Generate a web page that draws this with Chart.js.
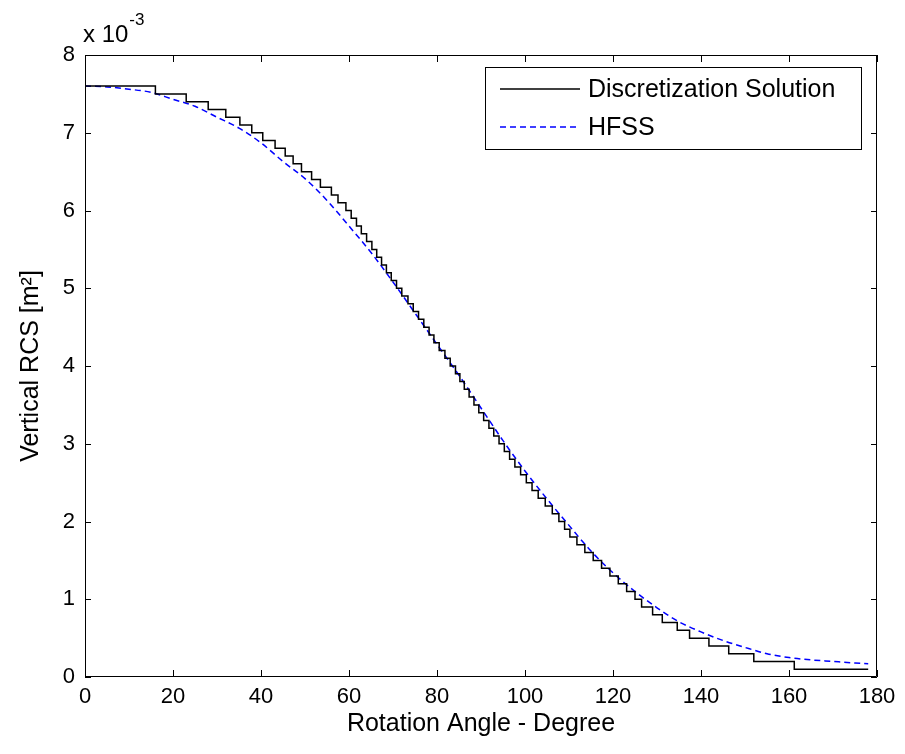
<!DOCTYPE html>
<html>
<head>
<meta charset="utf-8">
<script src="https://cdn.jsdelivr.net/npm/chart.js@4"></script>
<style>
  html, body { margin: 0; padding: 0; background: #ffffff; }
  #c { display: block; }
</style>
</head>
<body>
<canvas id="c" width="905" height="754"></canvas>
<script>
// Vertical RCS versus rotation angle; RCS values are in units of 1e-3 m^2.

// Discretization solution: angle (deg) at which each quantized level begins.
const discAngles = [
  0, 16, 23, 28, 32, 35.2, 37.9, 40.4, 43.2, 45.5,
  47.3, 49.2, 51.5, 53.5, 56, 57.5, 59.3, 60.5, 61.7, 62.8,
  64.0, 65.2, 66.3, 67.4, 68.5, 69.6, 70.8, 72.0, 73.4, 74.6,
  75.8, 77.0, 78.2, 79.3, 80.5, 81.8, 83.0, 84.2, 85.2, 86.2,
  87.3, 88.4, 89.5, 90.6, 91.8, 92.9, 94.1, 95.3, 96.5, 97.7,
  99.0, 100.3, 101.6, 103.0, 104.6, 106.2, 107.7, 109.0, 110.2, 111.8,
  113.6, 115.5, 117.4, 119.3, 121.2, 123.1, 125.0, 126.5, 129.0, 131.2,
  134.6, 137.4, 141.8, 146.3, 152.0, 161.2, 178
];
const discValues = [
  7.6, 7.5, 7.4, 7.3, 7.2, 7.1, 7.0, 6.9, 6.8, 6.7,
  6.6, 6.5, 6.4, 6.3, 6.2, 6.1, 6.0, 5.9, 5.8, 5.7,
  5.6, 5.5, 5.4, 5.3, 5.2, 5.1, 5.0, 4.9, 4.8, 4.7,
  4.6, 4.5, 4.4, 4.3, 4.2, 4.1, 4.0, 3.9, 3.8, 3.7,
  3.6, 3.5, 3.4, 3.3, 3.2, 3.1, 3.0, 2.9, 2.8, 2.7,
  2.6, 2.5, 2.4, 2.3, 2.2, 2.1, 2.0, 1.9, 1.8, 1.7,
  1.6, 1.5, 1.4, 1.3, 1.2, 1.1, 1.0, 0.9, 0.8, 0.7,
  0.6, 0.5, 0.4, 0.3, 0.2, 0.1, 0.1
];

// HFSS reference curve.
const hfssAngles = [
  0, 5, 10, 15, 20, 25, 30, 35, 40, 45,
  50, 55, 60, 65, 70, 75, 80, 85, 90, 95,
  100, 105, 110, 115, 120, 125, 130, 135, 140, 145,
  150, 155, 160, 165, 170, 175, 178
];
const hfssValues = [
  7.60, 7.59, 7.56, 7.52, 7.43, 7.34, 7.20, 7.06, 6.87, 6.63,
  6.41, 6.13, 5.80, 5.46, 5.08, 4.68, 4.28, 3.88, 3.46, 3.04,
  2.65, 2.29, 1.95, 1.62, 1.34, 1.10, 0.89, 0.71, 0.58, 0.47,
  0.38, 0.30, 0.25, 0.22, 0.20, 0.18, 0.17
];

const seriesNames = ['Discretization Solution', 'HFSS'];
const xTitle = 'Rotation Angle - Degree';
const yTitle = 'Vertical RCS [m\u00B2]';
const yMultiplier = ['x 10', '-3'];

const FONT = '"Liberation Sans", Arial, Helvetica, sans-serif';

// Box frame with inward tick marks on all four sides, the exponent label
// and a boxed legend in the upper right corner.
const framePlugin = {
  id: 'frame',
  afterDatasetsDraw(chart) {
    const { ctx, chartArea: a, scales } = chart;
    const xs = scales.x, ys = scales.y;
    ctx.save();
    ctx.strokeStyle = '#000';
    ctx.lineWidth = 1;
    ctx.beginPath();
    ctx.rect(a.left + 0.5, a.top + 0.5, a.right - a.left - 1, a.bottom - a.top - 1);
    ctx.stroke();

    ctx.beginPath();
    xs.ticks.forEach(t => {
      const px = Math.round(xs.getPixelForValue(t.value)) + 0.5;
      ctx.moveTo(px, a.bottom); ctx.lineTo(px, a.bottom - 7);
      ctx.moveTo(px, a.top); ctx.lineTo(px, a.top + 7);
    });
    ys.ticks.forEach(t => {
      const py = Math.round(ys.getPixelForValue(t.value)) + 0.5;
      ctx.moveTo(a.left, py); ctx.lineTo(a.left + 6, py);
      ctx.moveTo(a.right, py); ctx.lineTo(a.right - 6, py);
    });
    ctx.stroke();

    // exponent label above the y axis
    ctx.fillStyle = '#000';
    ctx.textBaseline = 'alphabetic';
    ctx.textAlign = 'left';
    ctx.font = '24px ' + FONT;
    ctx.fillText(yMultiplier[0], 83, 42);
    const w = ctx.measureText(yMultiplier[0]).width;
    ctx.font = '17px ' + FONT;
    ctx.fillText(yMultiplier[1], 83 + w + 1, 25);

    // legend
    const lx0 = 485, ly0 = 67, lx1 = 862, ly1 = 150;
    ctx.fillStyle = '#fff';
    ctx.fillRect(lx0, ly0, lx1 - lx0, ly1 - ly0);
    ctx.strokeStyle = '#000';
    ctx.lineWidth = 1;
    ctx.strokeRect(lx0 + 0.5, ly0 + 0.5, lx1 - lx0 - 1, ly1 - ly0 - 1);
    const rows = [89, 127];
    chart.data.datasets.forEach((ds, i) => {
      ctx.beginPath();
      ctx.strokeStyle = ds.borderColor;
      ctx.lineWidth = ds.borderWidth;
      ctx.setLineDash(ds.borderDash || []);
      ctx.moveTo(500, rows[i]); ctx.lineTo(580, rows[i]);
      ctx.stroke();
      ctx.setLineDash([]);
      ctx.fillStyle = '#000';
      ctx.font = '25px ' + FONT;
      ctx.textBaseline = 'middle';
      ctx.fillText(ds.label, 588, rows[i] + 1);
    });
    ctx.restore();
  }
};

new Chart(document.getElementById('c'), {
  type: 'line',
  data: {
    datasets: [
      {
        label: seriesNames[0],
        data: discAngles.map((a, i) => ({ x: a, y: discValues[i] })),
        borderColor: '#000000',
        borderWidth: 1.5,
        stepped: 'before',
        pointRadius: 0,
        fill: false
      },
      {
        label: seriesNames[1],
        data: hfssAngles.map((a, i) => ({ x: a, y: hfssValues[i] })),
        borderColor: '#0000ff',
        borderWidth: 1.5,
        borderDash: [6, 4],
        cubicInterpolationMode: 'monotone',
        pointRadius: 0,
        fill: false
      }
    ]
  },
  options: {
    responsive: false,
    animation: false,
    layout: { padding: { left: 0, right: 28, top: 55, bottom: 0 } },
    plugins: {
      legend: { display: false },
      tooltip: { enabled: false }
    },
    scales: {
      x: {
        type: 'linear',
        min: 0, max: 180,
        grid: { display: false, drawTicks: false },
        border: { display: false },
        ticks: {
          stepSize: 20,
          padding: 7,
          color: '#000',
          font: { family: FONT, size: 22 },
          maxRotation: 0,
          callback: v => String(v)
        },
        title: {
          display: true,
          text: xTitle,
          color: '#000',
          font: { family: FONT, size: 25 },
          padding: { top: 0, bottom: 15 }
        },
        afterFit(s) { s.height = 77; }
      },
      y: {
        type: 'linear',
        min: 0, max: 8,
        grid: { display: false, drawTicks: false },
        border: { display: false },
        ticks: {
          stepSize: 1,
          padding: 10,
          color: '#000',
          font: { family: FONT, size: 22 },
          callback: v => String(v)
        },
        title: {
          display: true,
          text: yTitle,
          color: '#000',
          font: { family: FONT, size: 25 },
          padding: { top: 16, bottom: 0 }
        },
        afterFit(s) { s.width = 85; }
      }
    }
  },
  plugins: [framePlugin]
});
</script>
</body>
</html>
